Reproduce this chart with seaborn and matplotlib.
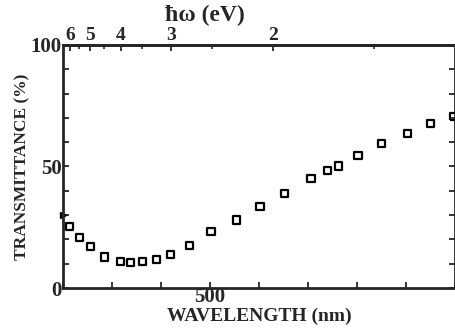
import matplotlib
matplotlib.use("Agg")
import matplotlib.pyplot as plt
import seaborn as sns
import numpy as np
import pandas as pd

# data
wavelength = [357, 367, 378, 392, 409, 419, 431, 445, 460, 479, 501,
              527, 551, 576, 603, 620, 631, 651, 675, 701, 725, 748]
transmittance = [25.5, 20.9, 17.2, 12.8, 11.1, 10.6, 11.1, 11.9, 13.9, 17.7, 23.2,
                 28.0, 33.6, 38.8, 44.9, 48.4, 50.2, 54.7, 59.5, 63.5, 67.5, 70.5]
x_ticks = [350, 400, 450, 500, 550, 600, 650, 700, 750]
x_labels = ["", "", "", "500", "", "", "", "", ""]
y_ticks = [0, 10, 20, 30, 40, 50, 60, 70, 80, 90, 100]
y_labels = ["0", "", "", "", "", "50", "", "", "", "", "100"]
ev_major = [6, 5, 4, 3, 2]
ev_minor = [5.5, 4.5, 3.5, 2.5, 1.5]
arrow_level = 30

sns.set_style("ticks")
plt.rcParams['font.family'] = ['Liberation Serif', 'DejaVu Serif']
plt.rcParams['font.weight'] = 'bold'

df = pd.DataFrame({"wl": wavelength, "T": transmittance})

fig = plt.figure(figsize=(4.56, 3.35), dpi=100)
ax = fig.add_axes([0.138, 0.140, 0.860, 0.726])

sns.scatterplot(data=df, x="wl", y="T", marker="s", s=26,
                facecolor="none", edgecolor="black", linewidth=1.6,
                ax=ax, clip_on=False, zorder=3)

# little arrow on the left axis
ax.plot([350], [arrow_level], marker=">", color="black", markersize=5, clip_on=False)

ax.set_xlim(350, 750)
ax.set_ylim(0, 100)
ax.set_xticks(x_ticks)
ax.set_xticklabels(x_labels)
ax.set_yticks(y_ticks)
ax.set_yticklabels(y_labels)
ax.tick_params(direction="in", length=4, width=1.3, labelsize=15, pad=1,
               right=True, top=False)
ax.tick_params(axis="x", pad=-1)
for lbl in ax.get_xticklabels() + ax.get_yticklabels():
    lbl.set_fontweight("bold")
for sp in ax.spines.values():
    sp.set_linewidth(2)
    sp.set_visible(True)

ax.set_xlabel("WAVELENGTH (nm)", fontsize=14, fontweight="bold", labelpad=1)
ax.set_ylabel("TRANSMITTANCE (%)", fontsize=12.5, fontweight="bold", labelpad=0)

# top photon energy axis (scale as drawn in the original figure)
def to_ev(w):
    w = np.asarray(w, dtype=float)
    return 621.0 / np.maximum(w - 253.5, 1e-6)

def to_wl(e):
    e = np.asarray(e, dtype=float)
    return 253.5 + 621.0 / np.maximum(e, 1e-6)

top = ax.secondary_xaxis("top", functions=(to_ev, to_wl))
top.set_xticks(ev_major)
top.set_xticks(ev_minor, minor=True)
top.set_xticklabels([str(v) for v in ev_major])
top.tick_params(direction="in", length=4, width=1.3, labelsize=14, pad=1)
top.tick_params(which="minor", direction="in", length=3, width=1.2)
for lbl in top.get_xticklabels():
    lbl.set_fontweight("bold")
top.spines["top"].set_linewidth(2)

fig.text(0.45, 0.955, "ħω (eV)", fontsize=17, fontweight="bold", ha="center", va="center")

fig.savefig("out.png", dpi=100)
